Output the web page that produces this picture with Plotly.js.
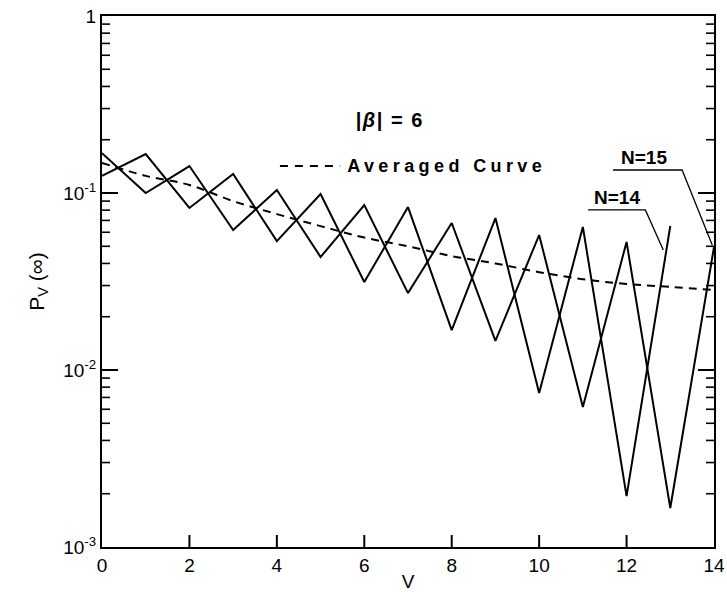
<!DOCTYPE html>
<html>
<head>
<meta charset="utf-8">
<script src="https://cdn.plot.ly/plotly-3.0.1.min.js"></script>
<style>
body{margin:0;background:#fff;}
#chart{width:727px;height:592px;}
.spaced{letter-spacing:4.4px;}
.spaced2{letter-spacing:1.5px;}
</style>
</head>
<body>
<div id="chart"></div>
<script>
// v values
const vN15 = [0,1,2,3,4,5,6,7,8,9,10,11,12,13,14];
const pN15 = [0.168,0.100,0.142,0.0618,0.104,0.0435,0.0855,0.0272,0.0677,0.0146,0.0579,0.00618,0.0529,0.00166,0.0495];
const vN14 = [0,1,2,3,4,5,6,7,8,9,10,11,12,13];
const pN14 = [0.125,0.166,0.0823,0.128,0.0535,0.0987,0.0314,0.0833,0.0168,0.0722,0.00741,0.0643,0.00194,0.0651];
const vAvg = [0,1,2,3,4,5,6,7,8,9,10,11,12,13,14];
const pAvg = [0.148,0.125,0.111,0.090,0.076,0.065,0.056,0.050,0.044,0.040,0.0357,0.0326,0.0306,0.0295,0.0283];

const xTicks = [0,2,4,6,8,10,12,14];
const yDecades = [0.001,0.01,0.1,1];
const yDecadeText = ['10<sup>-3</sup>','10<sup>-2</sup>','10<sup>-1</sup>','1'];

// key sample & leader lines (decorations)
const keyX = [4.07,5.45], keyY = [0.142,0.142];
const lead15X = [11.69,13.27,13.96], lead15Y = [0.1349,0.1349,0.0508];
const lead14X = [11.12,12.43,12.84], lead14Y = [0.0802,0.0802,0.0476];

const black = '#000';
const PLOT_W = 612, PLOT_H = 531;
const Y_MIN_LOG = -3, Y_MAX_LOG = 0;

// tick marks drawn as shapes (inside ticks)
const shapes = [];
function yFrac(v){ return (Math.log10(v) - Y_MIN_LOG) / (Y_MAX_LOG - Y_MIN_LOG); }
for (let e = Y_MIN_LOG; e < Y_MAX_LOG; e++) {
  for (let m = 1; m <= 9; m++) {
    if (m === 1 && e === Y_MIN_LOG) continue;
    const f = yFrac(m * Math.pow(10, e));
    const len = (m === 1 ? 16 : 8) / PLOT_W;
    const w = m === 1 ? 2 : 1.6;
    shapes.push({type:'line', xref:'x domain', yref:'y domain', x0:0, x1:len, y0:f, y1:f, line:{color:black, width:w}});
    shapes.push({type:'line', xref:'x domain', yref:'y domain', x0:1, x1:1-len, y0:f, y1:f, line:{color:black, width:w}});
  }
}
xTicks.slice(1, -1).forEach(t => {
  shapes.push({type:'line', xref:'x', yref:'y domain', x0:t, x1:t, y0:0, y1:12/PLOT_H, line:{color:black, width:2}});
});

const traces = [
 {x:vN15,y:pN15,mode:'lines',line:{color:black,width:2},hoverinfo:'skip',name:'N=15'},
 {x:vN14,y:pN14,mode:'lines',line:{color:black,width:2},hoverinfo:'skip',name:'N=14'},
 {x:vAvg,y:pAvg,mode:'lines',line:{color:black,width:2,dash:'8px,6px',shape:'spline'},hoverinfo:'skip',name:'Averaged Curve'},
 {x:keyX,y:keyY,mode:'lines',line:{color:black,width:2,dash:'8px,7px'},hoverinfo:'skip'},
 {x:lead15X,y:lead15Y,mode:'lines',line:{color:black,width:1.3},hoverinfo:'skip'},
 {x:lead14X,y:lead14Y,mode:'lines',line:{color:black,width:1.3},hoverinfo:'skip'}
];

const fontFam = 'Liberation Sans, Arial, sans-serif';
const layout = {
 width:727,height:592,
 margin:{l:102,r:13,t:16,b:45},
 paper_bgcolor:'#fff',plot_bgcolor:'#fff',
 showlegend:false,
 font:{family:fontFam,size:18,color:black},
 shapes:shapes,
 xaxis:{range:[0,14],tickmode:'array',tickvals:xTicks,ticks:'',
   showline:true,linewidth:2,linecolor:black,mirror:true,showgrid:false,zeroline:false,
   tickfont:{size:19,family:fontFam},
   title:{text:'V',standoff:4,font:{size:19,family:fontFam}}},
 yaxis:{type:'log',range:[Y_MIN_LOG,Y_MAX_LOG],tickmode:'array',tickvals:yDecades,ticktext:yDecadeText,ticks:'',
   showline:true,linewidth:2,linecolor:black,mirror:true,showgrid:false,zeroline:false,
   tickfont:{size:19,family:fontFam},
   title:{text:'P<sub>V</sub> (∞)',standoff:13,font:{size:21,family:fontFam}}},
 annotations:[
  {x:6.59,y:-0.588,xref:'x',yref:'y',text:'<b>|<i>β</i>| = 6</b>',showarrow:false,font:{size:20,family:fontFam}},
  {x:6.27,y:-0.847,xref:'x',yref:'y',xanchor:'left',text:'<b>Averaged Curve</b>',showarrow:false,font:{size:18,family:fontFam}},
  {x:12.41,y:-0.797,xref:'x',yref:'y',text:'<b>N=15</b>',showarrow:false,font:{size:19,family:fontFam}},
  {x:11.78,y:-1.028,xref:'x',yref:'y',text:'<b>N=14</b>',showarrow:false,font:{size:19,family:fontFam}}
 ]
};
Plotly.newPlot('chart',traces,layout,{staticPlot:true,displayModeBar:false}).then(()=>{
  const ann = document.querySelectorAll('.annotation-text');
  if (ann[1]) ann[1].classList.add('spaced');
  if (ann[0]) ann[0].classList.add('spaced2');
});
</script>
</body>
</html>
